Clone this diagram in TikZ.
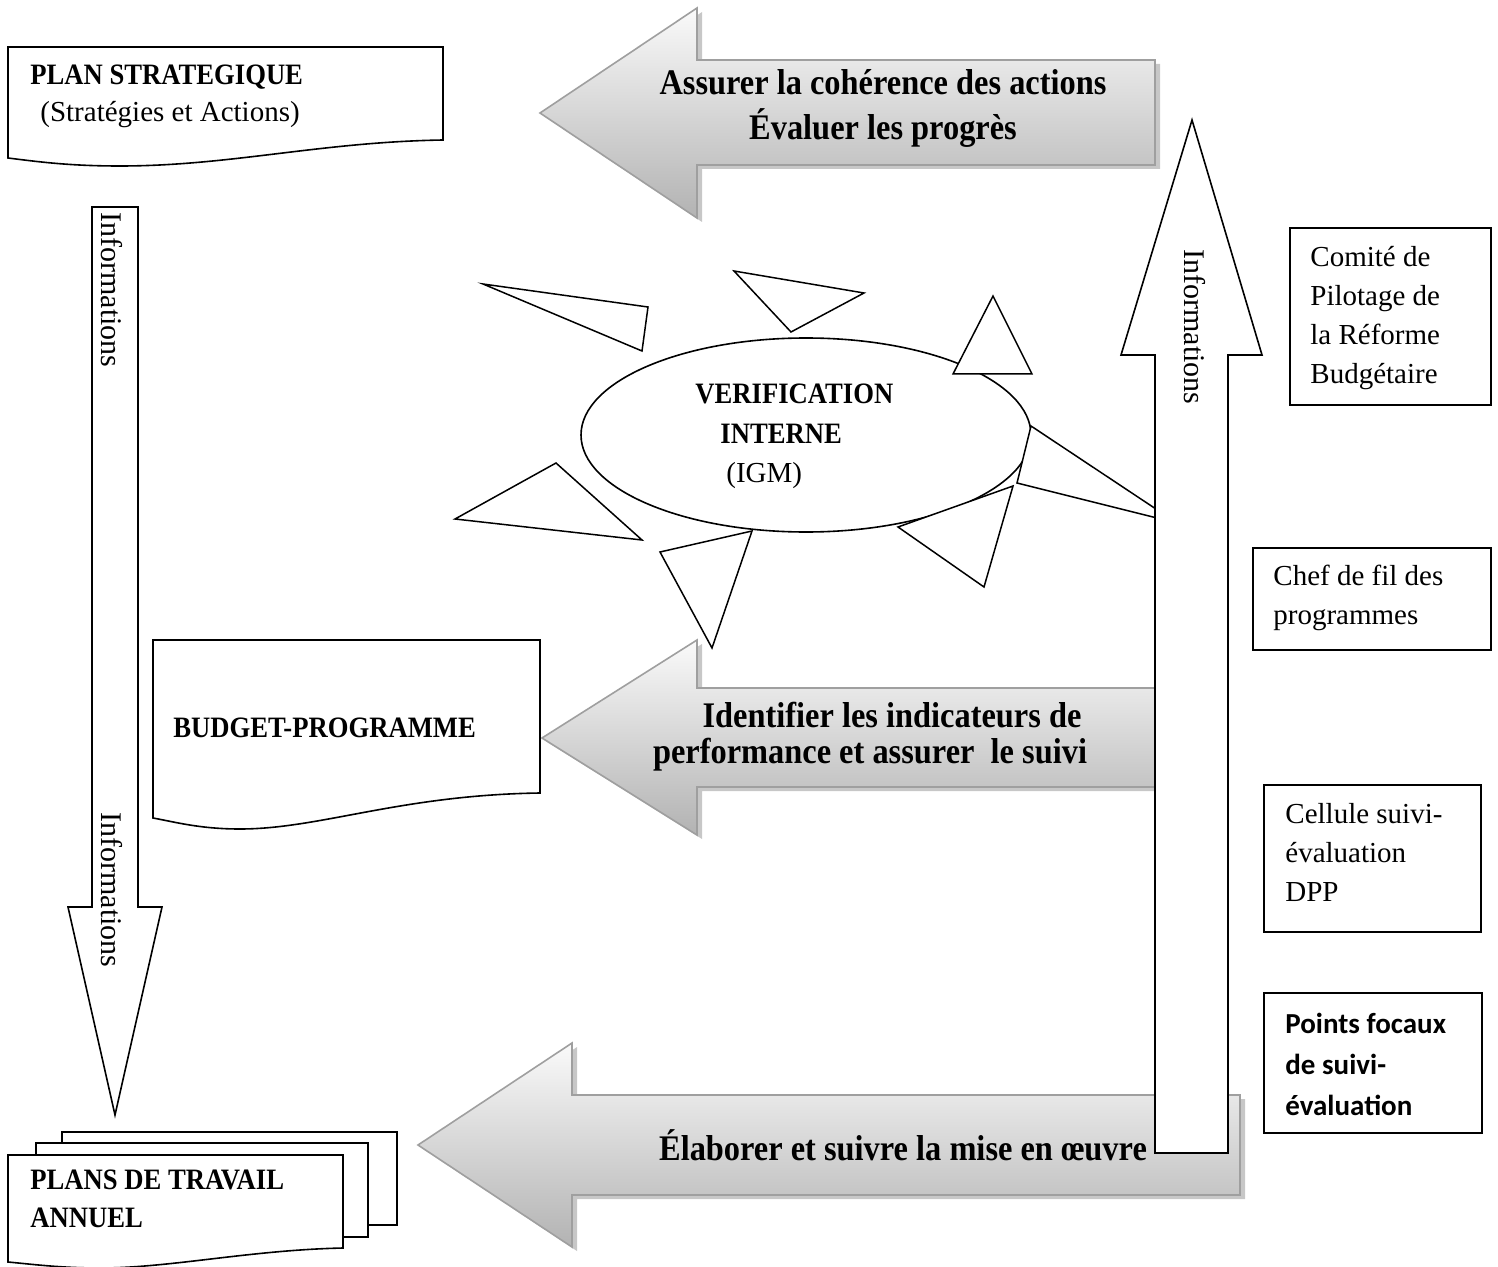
\documentclass[tikz,border=0pt]{standalone}
\usepackage{fontspec}
\setmainfont{Liberation Serif}
\newfontfamily\rmtxt{Liberation Serif}[FakeStretch=1.0]
\newfontfamily\bdtxt{Liberation Serif}[FakeStretch=0.9]
\newfontfamily\calib{Carlito}
\begin{document}
\begin{tikzpicture}[x=0.5pt,y=-0.5pt,
  shapeline/.style={draw=black, line width=0.8pt, fill=white, line join=miter},
  tri/.style={draw=black, line width=0.75pt, fill=white, line join=miter},
  garrow/.style={draw=gray!75, line width=0.8pt, top color=gray!4, bottom color=gray!60},
  gshadow/.style={fill=black, opacity=0.22},
  rtext/.style={font=\rmtxt\fontsize{14.5}{19.5}\selectfont, inner sep=0pt, align=left, anchor=west},
  btitle/.style={font=\bdtxt\bfseries\fontsize{14.8}{19}\selectfont, inner sep=0pt, align=left, anchor=west},
  atext/.style={font=\bdtxt\bfseries\fontsize{18}{22.5}\selectfont, inner sep=0pt, align=center},
  infotext/.style={font=\fontsize{15}{18}\selectfont, rotate=-90, inner sep=0pt},
  boxr/.style={draw=black, line width=1pt, fill=white},
]
\useasboundingbox (0,0) rectangle (1498,1267);

% ---- grey block arrows (with shadows)
\fill[gshadow] (545,117) -- (702,12) -- (702,64) -- (1160,64) -- (1160,169) -- (702,169) -- (702,222) -- cycle;
\path[garrow] (540,113) -- (697,8) -- (697,60) -- (1155,60) -- (1155,165) -- (697,165) -- (697,218) -- cycle;

\fill[gshadow] (547,742) -- (702,644) -- (702,692) -- (1160,692) -- (1160,791) -- (702,791) -- (702,839) -- cycle;
\path[garrow] (542,738) -- (697,640) -- (697,688) -- (1155,688) -- (1155,787) -- (697,787) -- (697,835) -- cycle;

\fill[gshadow] (423,1149) -- (577,1047) -- (577,1099) -- (1245,1099) -- (1245,1199) -- (577,1199) -- (577,1251) -- cycle;
\path[garrow] (418,1145) -- (572,1043) -- (572,1095) -- (1240,1095) -- (1240,1195) -- (572,1195) -- (572,1247) -- cycle;

% ---- document shapes
\draw[shapeline] (8,47) -- (443,47) -- (443,140) .. controls (320,142) and (230,166) .. (120,166) .. controls (70,166) and (40,162) .. (8,158) -- cycle;
\draw[shapeline] (153,640) -- (540,640) -- (540,793) .. controls (400,795) and (320,829) .. (240,829) .. controls (200,829) and (175,822) .. (153,818) -- cycle;
\draw[shapeline] (62,1132) rectangle (397,1225);
\draw[shapeline] (36,1143) rectangle (368,1237);
\draw[shapeline] (8,1155) -- (343,1155) -- (343,1248) .. controls (250,1250) and (170,1268) .. (100,1268) .. controls (60,1268) and (30,1264) .. (8,1262) -- cycle;

% ---- down arrow
\draw[shapeline] (92,207) -- (138,207) -- (138,907) -- (162,907) -- (115,1115) -- (68,907) -- (92,907) -- cycle;

% ---- ellipse and triangles
\draw[shapeline] (806,435) ellipse [x radius=225, y radius=97];
\draw[tri] (483,284) -- (648,307) -- (642,351) -- cycle;
\draw[tri] (734,271) -- (864,293) -- (791,332) -- cycle;
\draw[tri] (993,296) -- (1032,374) -- (953,374) -- cycle;
\draw[tri] (556,463) -- (455,519) -- (642,540) -- cycle;
\draw[tri] (660,552) -- (752,531) -- (712,648) -- cycle;
\draw[tri] (898,527) -- (1013,486) -- (984,587) -- cycle;
\draw[tri] (1031,426) -- (1177,523) -- (1017,483) -- cycle;

% ---- up arrow
\draw[shapeline] (1192,120) -- (1262,355) -- (1228,355) -- (1228,1153) -- (1155,1153) -- (1155,355) -- (1121,355) -- cycle;

% ---- right boxes
\draw[boxr] (1290,228) rectangle (1491,405);
\draw[boxr] (1253,548) rectangle (1491,650);
\draw[boxr] (1264,785) rectangle (1481,932);
\draw[boxr] (1264,993) rectangle (1482,1133);

% ---- texts
\node[btitle] (ps1) at (30,77) {PLAN STRATEGIQUE};
\node[rtext] (ps2) at (40,115) {(Stratégies et Actions)};
\node[btitle] (bp) at (173,728) {BUDGET-PROGRAMME};
\node[btitle] (pta) at (30,1199) {PLANS DE TRAVAIL\\ANNUEL};

\node[atext] (a1) at (883,108) {Assurer la cohérence des actions\\Évaluer les progrès};
\node[atext] (a2a) at (892,715) {Identifier les indicateurs de};
\node[atext] (a2b) at (870,755) {performance et assurer\ \ le suivi};
\node[atext] (a3) at (903,1145) {Élaborer et suivre la mise en œuvre};

\node[btitle] (v1) at (695,394) {VERIFICATION};
\node[btitle] (v2) at (720,434) {INTERNE};
\node[rtext] (v3) at (726,476) {(IGM)};

\node[infotext] (info1) at (112,290) {Informations};
\node[infotext] (info2) at (112,890) {Informations};
\node[infotext] (info3) at (1195,327) {Informations};

\node[rtext] (ca) at (1310,318) {Comité de\\Pilotage de\\la Réforme\\Budgétaire};
\node[rtext] (cb) at (1273,598) {Chef de fil des\\programmes};
\node[rtext] (cc) at (1285,852) {Cellule suivi-\\évaluation\\DPP};
\node[font=\calib\bfseries\fontsize{14.5}{20.5}\selectfont, inner sep=0pt, align=left, anchor=west] (cd) at (1285,1064) {Points focaux\\de suivi-\\évaluation};
\end{tikzpicture}
\end{document}
